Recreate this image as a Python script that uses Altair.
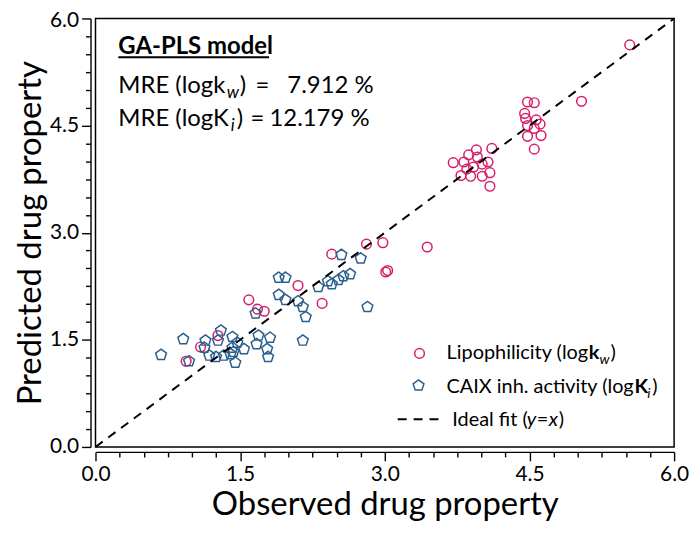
import altair as alt
import pandas as pd

# ---------------- data ----------------
lipo_obs = [5.54, 5.04, 4.48, 4.55, 4.45, 4.46, 4.57, 4.61, 4.48, 4.55, 4.62, 4.48, 4.55,
            4.11, 3.95, 3.87, 3.71, 3.82, 3.96, 4.07, 4.01, 3.92, 3.85, 3.79, 3.89, 4.01, 4.09, 4.09,
            3.44, 3.01, 3.03, 2.98, 2.81, 2.45, 2.35, 2.10, 1.59, 1.68, 1.75, 1.27, 1.09, 0.94]
lipo_pred = [5.63, 4.84, 4.83, 4.82, 4.67, 4.60, 4.58, 4.52, 4.50, 4.46, 4.36, 4.35, 4.17,
             4.18, 4.16, 4.09, 3.98, 3.99, 4.06, 3.99, 3.96, 3.92, 3.89, 3.80, 3.79, 3.79, 3.84, 3.65,
             2.80, 2.45, 2.47, 2.86, 2.84, 2.70, 2.01, 2.26, 2.06, 1.93, 1.90, 1.56, 1.40, 1.20]

caix_obs = [0.68, 0.91, 0.97, 1.14, 1.13, 1.18, 1.25, 1.27, 1.30, 1.33, 1.40, 1.42, 1.43, 1.47,
            1.45, 1.42, 1.54, 1.69, 1.67, 1.81, 1.78, 1.79, 2.15, 1.66, 1.90, 1.97, 1.90, 1.97,
            2.10, 2.15, 2.18, 2.31, 2.41, 2.45, 2.52, 2.57, 2.64, 2.75, 2.55, 2.82]
caix_pred = [1.29, 1.51, 1.20, 1.49, 1.39, 1.28, 1.26, 1.49, 1.63, 1.28, 1.30, 1.39, 1.33, 1.46,
             1.18, 1.54, 1.37, 1.56, 1.44, 1.53, 1.37, 1.26, 1.49, 1.87, 2.37, 2.37, 2.13, 2.06,
             2.04, 1.96, 1.82, 2.24, 2.32, 2.28, 2.34, 2.39, 2.42, 2.64, 2.69, 1.96]

ideal = [0.0, 6.0]

major_ticks = [0.0, 1.5, 3.0, 4.5, 6.0]
all_ticks = [i * 0.25 for i in range(25)]

x_title = "Observed drug property"
y_title = "Predicted drug property"

# ---------------- styling ----------------
FONT = "Lato"
PINK = "#d81e6a"
BLUE = "#2b5f8e"
PENTAGON = "M0,-1L0.951,-0.309L0.588,0.809L-0.588,0.809L-0.951,-0.309Z"

scale = alt.Scale(domain=[0, 6], nice=False, zero=False)


def make_axis(title, title_pad, top_offset=None):
    kw = {}
    if top_offset is not None:
        kw["labelOffset"] = {"condition": {"test": "datum.value === 6", "value": top_offset}, "value": 0}
    return alt.Axis(
        title=title,
        values=all_ticks,
        labelExpr="datum.value % 1.5 === 0 ? format(datum.value, '.1f') : ''",
        tickSize={"condition": {"test": "datum.value % 1.5 === 0", "value": 9}, "value": 5},
        tickColor="black", tickWidth=1.4,
        domainColor="black", domainWidth=1.4,
        offset=5, grid=False,
        labelFont=FONT, labelFontSize=21, labelColor="black", labelPadding=3,
        labelOverlap=False, labelFlush=False, labelBound=False,
        titleFont=FONT, titleFontSize=33, titleFontWeight="normal", titleColor="black",
        titlePadding=title_pad,
        **kw,
    )


X = alt.X("x:Q", scale=scale, axis=make_axis(x_title, 4))
Y = alt.Y("y:Q", scale=scale, axis=make_axis(y_title, 2, top_offset=2))

lipo_df = pd.DataFrame({"x": lipo_obs, "y": lipo_pred})
caix_df = pd.DataFrame({"x": caix_obs, "y": caix_pred})
ideal_df = pd.DataFrame({"x": ideal, "y": ideal})

lipo = alt.Chart(lipo_df).mark_point(shape="circle", filled=False, color=PINK,
                                     size=95, strokeWidth=1.5, opacity=1).encode(x=X, y=Y)
caix = alt.Chart(caix_df).mark_point(shape=PENTAGON, filled=False, color=BLUE,
                                     size=130, strokeWidth=1.5, opacity=1).encode(x=X, y=Y)
line = alt.Chart(ideal_df).mark_line(color="black", strokeWidth=2,
                                     strokeDash=[9, 7]).encode(x=X, y=Y)


def seg(x, y, text, dx=0, dy=0, size=24, weight="normal", style="normal", color="black"):
    df = pd.DataFrame({"x": [x], "y": [y], "t": [text]})
    return alt.Chart(df).mark_text(
        align="left", baseline="alphabetic", dx=dx, dy=dy, font=FONT, fontSize=size,
        fontWeight=weight, fontStyle=style, color=color,
    ).encode(x=X, y=Y, text="t:N")


# annotation box (top-left)
ann_x = 0.237
ann = [
    seg(ann_x, 5.50, "GA-PLS model", weight="bold"),
    seg(ann_x, 4.958, "MRE (logk"),
    seg(ann_x, 4.958, "w", dx=109, dy=5, size=17, style="italic"),
    seg(ann_x, 4.958, ")", dx=122),
    seg(ann_x, 4.958, "=", dx=138),
    seg(ann_x, 4.958, "7.912 %", dx=170),
    seg(ann_x, 4.50, "MRE (logK"),
    seg(ann_x, 4.50, "i", dx=113, dy=5, size=17, style="italic"),
    seg(ann_x, 4.50, ")", dx=119),
    seg(ann_x, 4.50, "=", dx=133),
    seg(ann_x, 4.50, "12.179 %", dx=152),
]
underline = alt.Chart(pd.DataFrame({"x": [0.237], "x2": [1.80], "y": [5.458]})).mark_rule(
    color="black", strokeWidth=2).encode(x=X, x2="x2:Q", y=Y)

# custom legend (bottom-right)
leg_x = 3.64
LS = 20
leg = [
    alt.Chart(pd.DataFrame({"x": [3.36], "y": [1.31]})).mark_point(
        shape="circle", filled=False, color=PINK, size=95, strokeWidth=1.5, opacity=1).encode(x=X, y=Y),
    alt.Chart(pd.DataFrame({"x": [3.35], "y": [0.86]})).mark_point(
        shape=PENTAGON, filled=False, color=BLUE, size=130, strokeWidth=1.5, opacity=1).encode(x=X, y=Y),
    seg(leg_x, 1.236, "Lipophilicity (log", size=LS),
    seg(leg_x, 1.236, "k", dx=143, size=LS, weight="bold"),
    seg(leg_x, 1.236, "w", dx=154, dy=5, size=14, style="italic"),
    seg(leg_x, 1.236, ")", dx=165, size=LS),
    seg(leg_x, 0.757, "CAIX inh. activity (log", size=LS),
    seg(leg_x, 0.757, "K", dx=189, size=LS, weight="bold"),
    seg(leg_x, 0.757, "i", dx=202, dy=5, size=14, style="italic"),
    seg(leg_x, 0.757, ")", dx=207, size=LS),
    seg(3.70, 0.292, "Ideal fit (", size=LS),
    seg(3.70, 0.292, "y", dx=75, size=LS, style="italic"),
    seg(3.70, 0.292, "=", dx=85, size=LS),
    seg(3.70, 0.292, "x", dx=97, size=LS, style="italic"),
    seg(3.70, 0.292, ")", dx=107, size=LS),
]
leg_line = alt.Chart(pd.DataFrame({"x": [3.134], "x2": [3.577], "y": [0.389]})).mark_rule(
    color="black", strokeWidth=2, strokeDash=[9, 7]).encode(x=X, x2="x2:Q", y=Y)

chart = alt.layer(lipo, caix, line, underline, leg_line, *ann, *leg).properties(
    width=582, height=431,
    autosize=alt.AutoSizeParams(type="none"),
    padding={"left": 88, "top": 9, "right": 18, "bottom": 78},
    background="white",
).configure_view(stroke="black", strokeWidth=1.5)

chart.save("out.html", embed_options={"renderer": "svg", "actions": False})
